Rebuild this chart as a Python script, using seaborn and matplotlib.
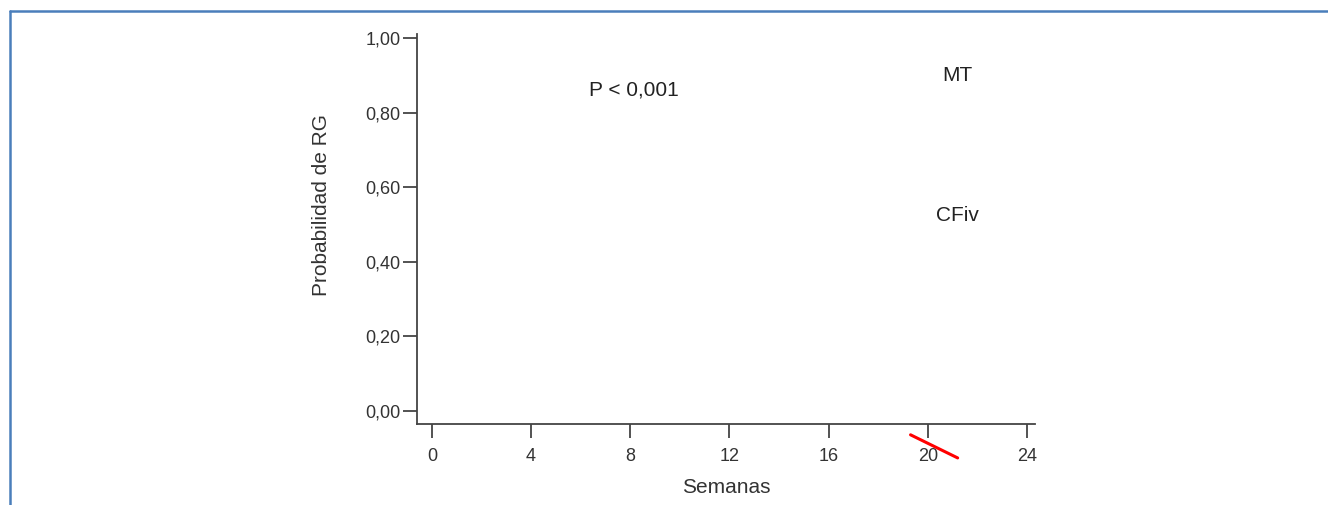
import numpy as np
import matplotlib
matplotlib.use("Agg")
import matplotlib.pyplot as plt
import seaborn as sns
import pandas as pd
from matplotlib.lines import Line2D

# data
semanas_ticks = [0, 4, 8, 12, 16, 20, 24]
prob_ticks = [0.0, 0.2, 0.4, 0.6, 0.8, 1.0]
prob_labels = ["0,00", "0,20", "0,40", "0,60", "0,80", "1,00"]

# the only drawn mark: red stroke under the axis near week 20
marca_x = [19.3, 21.2]
marca_y = [-0.064, -0.126]

grupos = ["MT", "CFiv"]
grupos_x = [21.2, 21.2]
grupos_y = [0.90, 0.523]
p_texto = "P < 0,001"

sns.set_style("ticks")
plt.rcParams['font.family'] = ['Liberation Sans', 'DejaVu Sans']

fig = plt.figure(figsize=(13.28, 5.05), dpi=100)
ax = fig.add_axes([0.314, 0.1604, 0.4654, 0.7723])

df = pd.DataFrame({"x": marca_x, "y": marca_y})
sns.lineplot(data=df, x="x", y="y", color="red", linewidth=2.2, ax=ax)
for l in ax.lines:
    l.set_clip_on(False)

ax.set_xlim(-0.6, 24.32)
ax.set_ylim(-0.035, 1.011)
ax.set_xticks(semanas_ticks)
ax.set_xticklabels([str(s) for s in semanas_ticks])
ax.set_yticks(prob_ticks)
ax.set_yticklabels(prob_labels)

for s in ["top", "right"]:
    ax.spines[s].set_visible(False)
for s in ["left", "bottom"]:
    ax.spines[s].set_color("#444444")
    ax.spines[s].set_linewidth(1.3)
ax.tick_params(axis="both", length=10, width=1.3, color="#444444",
               labelsize=13, labelcolor="#333333", pad=2)
ax.tick_params(axis="x", pad=7)

ax.set_xlabel("Semanas", fontsize=15, color="#333333")
ax.set_ylabel("Probabilidad de RG", fontsize=15, color="#333333")
ax.xaxis.set_label_coords(0.5, -0.163)
ax.yaxis.set_label_coords(-0.154, 0.5615)
ax.yaxis.label.set_va("center")
ax.xaxis.label.set_va("center")

ax.text(8.15, 0.86, p_texto, fontsize=15, color="#222222", ha="center", va="center")
for g, gx, gy in zip(grupos, grupos_x, grupos_y):
    ax.text(gx, gy, g, fontsize=15, color="#222222", ha="center", va="center")

# blue frame of the figure (top and left edges)
fig.add_artist(Line2D([10 / 1328, 1], [1 - 11 / 505, 1 - 11 / 505],
                      color="#4a7ebb", linewidth=1.8, transform=fig.transFigure))
fig.add_artist(Line2D([10 / 1328, 10 / 1328], [0, 1 - 11 / 505],
                      color="#4a7ebb", linewidth=1.8, transform=fig.transFigure))

fig.savefig("out.png", dpi=100)
